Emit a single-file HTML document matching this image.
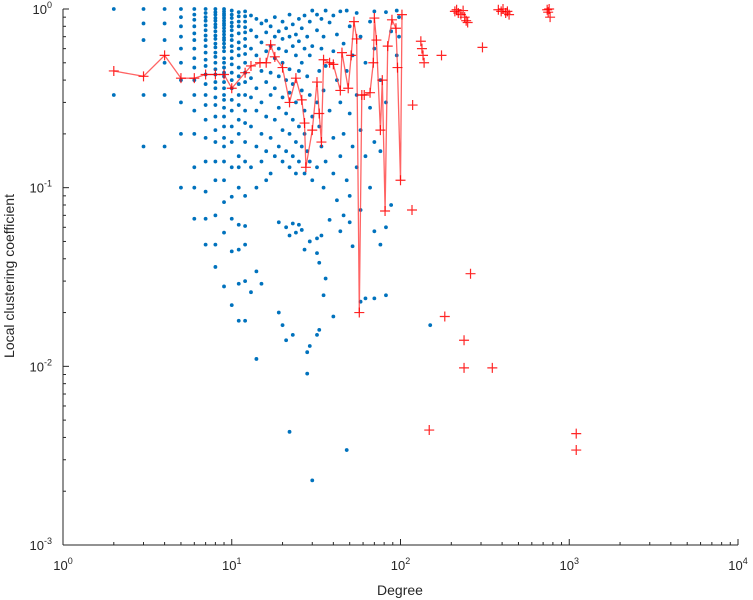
<!DOCTYPE html>
<html><head><meta charset="utf-8"><style>
html,body{margin:0;padding:0;background:#fff;}
svg{display:block;font-family:"Liberation Sans",sans-serif;}
</style></head><body>
<svg id="chart" width="753" height="600" viewBox="0 0 753 600" xmlns="http://www.w3.org/2000/svg">
<g id="axes"></g>
<g id="blue"></g>
<g id="red"></g>
<text x="400" y="595" font-size="14" fill="#262626" text-anchor="middle">Degree</text>
<text transform="translate(14,276) rotate(-90)" font-size="14" fill="#262626" text-anchor="middle">Local clustering coefficient</text>
</svg>
<script>
// ---- data ----
const xTickExps = [0, 1, 2, 3, 4];
const yTickExps = [0, -1, -2, -3];
// low-degree columns: coefficients per integer degree
const colDegrees = [2, 3, 4, 5, 6, 7, 8, 9, 10, 11, 12];
const colCoefs = [
  [1, 0.33],
  [1, 0.83, 0.67, 0.33, 0.17],
  [1, 0.83, 0.67, 0.5, 0.33, 0.17],
  [1, 0.9, 0.8, 0.7, 0.6, 0.5, 0.4, 0.3, 0.2, 0.1],
  [1, 0.93, 0.87, 0.8, 0.73, 0.67, 0.6, 0.53, 0.47, 0.4, 0.33, 0.27, 0.2, 0.13, 0.1, 0.067],
  [1, 0.95, 0.9, 0.86, 0.81, 0.76, 0.71, 0.67, 0.62, 0.57, 0.52, 0.48, 0.43, 0.38, 0.33, 0.29, 0.24, 0.19, 0.14, 0.095, 0.067, 0.048],
  [1, 0.96, 0.93, 0.89, 0.86, 0.82, 0.79, 0.75, 0.71, 0.68, 0.64, 0.61, 0.57, 0.54, 0.5, 0.46, 0.43, 0.39, 0.36, 0.32, 0.29, 0.25, 0.21, 0.18, 0.14, 0.11, 0.07, 0.048, 0.036],
  [1, 0.97, 0.94, 0.92, 0.89, 0.86, 0.83, 0.81, 0.78, 0.75, 0.72, 0.69, 0.67, 0.64, 0.61, 0.58, 0.53, 0.5, 0.47, 0.44, 0.42, 0.39, 0.36, 0.33, 0.31, 0.28, 0.25, 0.22, 0.19, 0.17, 0.14, 0.11, 0.083, 0.056, 0.028],
  [0.98, 0.93, 0.89, 0.84, 0.8, 0.76, 0.71, 0.67, 0.62, 0.58, 0.53, 0.49, 0.44, 0.4, 0.36, 0.31, 0.27, 0.22, 0.18, 0.13, 0.089, 0.067, 0.044, 0.022],
  [0.96, 0.91, 0.85, 0.8, 0.73, 0.65, 0.6, 0.55, 0.47, 0.42, 0.38, 0.33, 0.29, 0.24, 0.2, 0.15, 0.13, 0.1, 0.062, 0.045, 0.029, 0.018],
  [0.97, 0.91, 0.85, 0.79, 0.74, 0.68, 0.62, 0.56, 0.5, 0.44, 0.39, 0.33, 0.27, 0.23, 0.18, 0.14, 0.09, 0.061, 0.048, 0.03, 0.018]
];
// scattered higher-degree nodes [degree, coefficient]
const scatterPts = [
 [13,0.92],[13,0.76],[13,0.6],[13,0.41],[13,0.32],[13,0.22],[13,0.13],[13,0.026],
 [14,0.88],[14,0.7],[14,0.55],[14,0.36],[14,0.27],[14,0.17],[14,0.1],[14,0.034],[14,0.011],
 [15,0.83],[15,0.65],[15,0.45],[15,0.3],[15,0.2],[15,0.14],[15,0.029],
 [16,0.86],[16,0.74],[16,0.58],[16,0.39],[16,0.25],[16,0.16],[16,0.11],
 [17,0.8],[17,0.62],[17,0.44],[17,0.33],[17,0.19],[17,0.12],
 [18,0.9],[18,0.7],[18,0.53],[18,0.36],[18,0.24],[18,0.15],
 [19,0.75],[19,0.6],[19,0.42],[19,0.28],[19,0.17],[19,0.064],[19,0.02],
 [20,0.85],[20,0.68],[20,0.5],[20,0.32],[20,0.21],[20,0.14],[20,0.017],
 [21,0.78],[21,0.58],[21,0.4],[21,0.26],[21,0.16],[21,0.06],[21,0.014],
 [22,0.93],[22,0.7],[22,0.46],[22,0.34],[22,0.2],[22,0.13],[22,0.054],[22,0.0043],
 [23,0.82],[23,0.62],[23,0.38],[23,0.24],[23,0.15],[23,0.063],[23,0.015],
 [24,0.72],[24,0.55],[24,0.3],[24,0.18],[24,0.12],[24,0.056],
 [25,0.88],[25,0.66],[25,0.45],[25,0.22],[25,0.14],[25,0.062],
 [26,0.78],[26,0.5],[26,0.35],[26,0.17],[26,0.058],
 [27,0.92],[27,0.6],[27,0.27],[27,0.2],[27,0.12],[27,0.045],
 [28,0.7],[28,0.42],[28,0.16],[28,0.012],[28,0.0091],
 [29,0.85],[29,0.55],[29,0.33],[29,0.14],[29,0.05],[29,0.013],
 [30,0.98],[30,0.62],[30,0.25],[30,0.11],[30,0.0023],
 [32,0.93],[32,0.76],[32,0.3],[32,0.13],[32,0.052],[32,0.043],[32,0.015],
 [33,0.45],[33,0.22],[33,0.038],[33,0.016],
 [34,0.88],[34,0.6],[34,0.17],[34,0.054],
 [35,0.7],[35,0.35],[35,0.1],[35,0.025],
 [36,0.98],[36,0.48],[36,0.14],[36,0.031],
 [38,0.84],[38,0.27],[38,0.066],
 [40,0.92],[40,0.58],[40,0.19],[40,0.12],[40,0.019],
 [42,0.72],[42,0.4],[42,0.085],
 [44,0.97],[44,0.3],[44,0.15],[44,0.057],
 [46,0.64],[46,0.2],[46,0.07],
 [48,0.98],[48,0.45],[48,0.11],[48,0.0034],
 [50,0.8],[50,0.26],[50,0.09],[50,0.064],
 [52,0.55],[52,0.17],[52,0.047],
 [55,0.95],[55,0.33],[55,0.13],
 [58,0.7],[58,0.21],[58,0.075],[58,0.023],
 [62,0.5],[62,0.15],[62,0.024],
 [66,0.85],[66,0.28],[66,0.1],
 [70,0.97],[70,0.6],[70,0.18],[70,0.057],[70,0.024],
 [76,0.4],[76,0.16],[76,0.048],
 [82,0.96],[82,0.3],[82,0.06],[82,0.025],
 [88,0.75],[88,0.08],
 [95,0.98],[95,0.55],
 [98,0.9],[98,0.7],
 [150,0.017]
];
// average clustering per degree (connected red series)
const redDeg = [2,3,4,5,6,7,8,9,10,12,13,14.7,16,17,18,20,22,24,26,27,27.5,30,32,33,34,35,38,40,44,45,49,51,53,55,57,59,61,66,69,70,72,76,78,81,84,89,94,96,100,102];
const redCoef = [0.45,0.42,0.55,0.41,0.41,0.43,0.43,0.43,0.36,0.44,0.48,0.5,0.5,0.63,0.54,0.47,0.3,0.41,0.31,0.23,0.13,0.21,0.39,0.26,0.18,0.52,0.5,0.49,0.35,0.57,0.36,0.55,0.85,0.68,0.02,0.33,0.33,0.34,0.5,0.89,0.67,0.21,0.4,0.074,0.62,0.87,0.78,0.47,0.11,0.93];
// isolated red markers at higher degree
const redLooseDeg = [118,117,132,134,136,138,175,306,210,215,220,228,235,240,245,250,380,395,405,420,430,440,740,750,760,770,260,183,238,238,350,148,1100,1100];
const redLooseCoef = [0.29,0.075,0.66,0.6,0.55,0.5,0.55,0.61,0.97,0.99,0.95,0.93,0.98,0.9,0.86,0.84,0.99,0.97,1.0,0.95,0.97,0.93,0.99,0.96,1.0,0.9,0.033,0.019,0.014,0.0098,0.0098,0.0044,0.0042,0.0034];

// ---- scales ----
const X0 = 63, XD = 168.75, Y0 = 9, YD = 178.67;
function xs(d){ return X0 + XD*Math.log10(d); }
function ys(c){ return Y0 - YD*Math.log10(c); }
const NS = "http://www.w3.org/2000/svg";
function mk(tag, attrs, parent){ const e=document.createElementNS(NS,tag); for(const k in attrs) e.setAttribute(k,attrs[k]); parent.appendChild(e); return e; }

// ---- axes ----
const ax = document.getElementById('axes');
const xAxis = mk('line',{x1:X0,y1:ys(0.001),x2:xs(10000),y2:ys(0.001),stroke:'#262626','stroke-width':1},ax);


const yAxis = mk('line',{x1:X0,y1:ys(1),x2:X0,y2:ys(0.001),stroke:'#262626','stroke-width':1},ax);


const yb = ys(0.001);
xTickExps.forEach(function(e){
  const x = xs(Math.pow(10,e));
  const t = mk('line',{x1:x,y1:yb,x2:x,y2:yb-6,stroke:'#262626'},ax);
  
  
  if(e<4){ for(let m=2;m<10;m++){ const xm=xs(m*Math.pow(10,e)); const mt=mk('line',{x1:xm,y1:yb,x2:xm,y2:yb-3,stroke:'#262626'},ax);
    
     } }
  const lb = mk('text',{x:x,y:570,'font-size':13,fill:'#262626','text-anchor':'middle'},ax);
  
  
  lb.innerHTML = '10<tspan dy="-6" font-size="9">'+e+'</tspan>';
});
yTickExps.forEach(function(e){
  const y = ys(Math.pow(10,e));
  const t = mk('line',{x1:X0,y1:y,x2:X0+6,y2:y,stroke:'#262626'},ax);
  
  
  if(e>-3){ for(let m=2;m<10;m++){ const ym=ys(m*Math.pow(10,e-1)); const mt=mk('line',{x1:X0,y1:ym,x2:X0+3,y2:ym,stroke:'#262626'},ax);
    
     } }
  const lb = mk('text',{x:52,y:y+5,'font-size':13,fill:'#262626','text-anchor':'end'},ax);
  
  
  lb.innerHTML = '10<tspan dy="-6" font-size="9">'+e+'</tspan>';
});

// ---- blue points ----
const bg = document.getElementById('blue');
function dot(d,c){
  const p = mk('circle',{cx:xs(d),cy:ys(c),r:1.9,fill:'#0072BD'},bg);
  
  
}
colDegrees.forEach(function(d,i){ colCoefs[i].forEach(function(c){ dot(d,c); }); });
scatterPts.forEach(function(p){ dot(p[0],p[1]); });

// ---- red series ----
const rg = document.getElementById('red');
const pts = redDeg.map(function(d,i){ return xs(d).toFixed(1)+','+ys(redCoef[i]).toFixed(1); }).join(' ');
const pl = mk('polyline',{points:pts,fill:'none',stroke:'#ff3030','stroke-width':1.3,'stroke-opacity':0.75},rg);


function plus(d,c){
  const x=xs(d), y=ys(c);
  const g = mk('path',{d:'M'+(x-5)+' '+y+'H'+(x+5)+'M'+x+' '+(y-5)+'V'+(y+5),stroke:'#ff0000','stroke-width':1.2,'stroke-opacity':0.85},rg);
  
  
}
redDeg.forEach(function(d,i){ plus(d,redCoef[i]); });
redLooseDeg.forEach(function(d,i){ plus(d,redLooseCoef[i]); });
</script>
</body></html>
